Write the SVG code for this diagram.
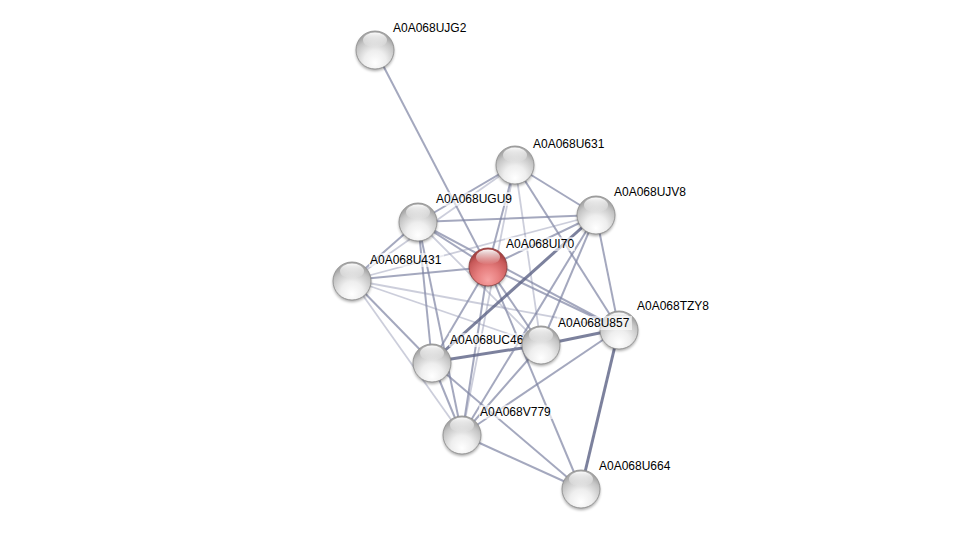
<svg xmlns="http://www.w3.org/2000/svg" width="975" height="534" viewBox="0 0 975 534">
<defs>
<radialGradient id="gw" cx="50%" cy="75%" r="65%" fx="50%" fy="85%">
<stop offset="0" stop-color="#ffffff"/>
<stop offset="0.45" stop-color="#eeeeee"/>
<stop offset="0.85" stop-color="#c4c4c4"/>
<stop offset="1" stop-color="#a8a8a8"/>
</radialGradient>
<radialGradient id="gr" cx="50%" cy="75%" r="65%" fx="50%" fy="85%">
<stop offset="0" stop-color="#f7a3a3"/>
<stop offset="0.45" stop-color="#e77f7f"/>
<stop offset="0.85" stop-color="#c85a5a"/>
<stop offset="1" stop-color="#a84444"/>
</radialGradient>
<linearGradient id="hl" x1="0" y1="0" x2="0" y2="1">
<stop offset="0" stop-color="#ffffff" stop-opacity="0.95"/>
<stop offset="1" stop-color="#ffffff" stop-opacity="0"/>
</linearGradient>
<filter id="sh" x="-50%" y="-50%" width="200%" height="200%">
<feGaussianBlur stdDeviation="1.5"/>
</filter>
<g id="node">
<circle cx="0" cy="2" r="19" fill="#000" opacity="0.35" filter="url(#sh)"/>
<circle cx="0" cy="0" r="19" fill="url(#gw)" stroke="#8a8a8a" stroke-width="0.8"/>
<ellipse cx="0" cy="-10" rx="12" ry="7.5" fill="url(#hl)"/>
</g>
<g id="rnode">
<circle cx="0" cy="2" r="19" fill="#000" opacity="0.35" filter="url(#sh)"/>
<circle cx="0" cy="0" r="19" fill="url(#gr)" stroke="#8a3a3a" stroke-width="0.8"/>
<ellipse cx="0" cy="-10" rx="12" ry="7.5" fill="url(#hl)"/>
</g>
</defs>
<style>
.e{stroke:#7d83a3;stroke-width:2;opacity:0.7;fill:none}
.t{stroke:#5b6185;stroke-width:3;opacity:0.8;fill:none}
.l{stroke:#8d93b0;stroke-width:1.8;opacity:0.45;fill:none}
.lb{font-family:"Liberation Sans",Arial,sans-serif;font-size:12px;fill:#000}
.bg{fill:#fff;opacity:0.6}
</style>
<rect width="975" height="534" fill="#fff"/>
<g id="edges">
<line class="e" x1="375" y1="50" x2="488" y2="267"/>
<line class="e" x1="515" y1="165" x2="488" y2="267"/>
<line class="e" x1="596" y1="215" x2="488" y2="267"/>
<line class="e" x1="418" y1="222" x2="488" y2="267"/>
<line class="e" x1="352" y1="280" x2="488" y2="267"/>
<line class="e" x1="619" y1="329" x2="488" y2="267"/>
<line class="e" x1="541" y1="345" x2="488" y2="267"/>
<line class="e" x1="432" y1="362" x2="488" y2="267"/>
<line class="e" x1="462" y1="435" x2="488" y2="267"/>
<line class="e" x1="581" y1="489" x2="488" y2="267"/>
<line class="e" x1="515" y1="165" x2="418" y2="222"/>
<line class="l" x1="515" y1="165" x2="352" y2="280"/>
<line class="e" x1="515" y1="165" x2="596" y2="215"/>
<line class="e" x1="515" y1="165" x2="619" y2="329"/>
<line class="l" x1="515" y1="165" x2="541" y2="345"/>
<line class="l" x1="515" y1="165" x2="462" y2="435"/>
<line class="e" x1="418" y1="222" x2="596" y2="215"/>
<line class="e" x1="418" y1="222" x2="352" y2="280"/>
<line class="e" x1="418" y1="222" x2="432" y2="362"/>
<line class="e" x1="418" y1="222" x2="462" y2="435"/>
<line class="l" x1="418" y1="222" x2="541" y2="345"/>
<line class="e" x1="418" y1="222" x2="619" y2="329"/>
<line class="l" x1="352" y1="280" x2="596" y2="215"/>
<line class="l" x1="352" y1="280" x2="619" y2="329"/>
<line class="l" x1="352" y1="280" x2="541" y2="345"/>
<line class="e" x1="352" y1="280" x2="432" y2="362"/>
<line class="l" x1="352" y1="280" x2="462" y2="435"/>
<line class="t" x1="432" y1="362" x2="596" y2="215"/>
<line class="t" x1="432" y1="362" x2="541" y2="345"/>
<line class="e" x1="432" y1="362" x2="462" y2="435"/>
<line class="e" x1="432" y1="362" x2="581" y2="489"/>
<line class="e" x1="462" y1="435" x2="596" y2="215"/>
<line class="e" x1="462" y1="435" x2="541" y2="345"/>
<line class="e" x1="462" y1="435" x2="619" y2="329"/>
<line class="e" x1="462" y1="435" x2="581" y2="489"/>
<line class="t" x1="541" y1="345" x2="619" y2="329"/>
<line class="e" x1="541" y1="345" x2="596" y2="215"/>
<line class="e" x1="619" y1="329" x2="596" y2="215"/>
<line class="t" x1="619" y1="329" x2="581" y2="489"/>
</g>
<g id="n-UJG2"><use href="#node" x="375" y="50"/><rect class="bg" x="392" y="21" width="76" height="14"/><text class="lb" x="393" y="32">A0A068UJG2</text></g>
<g id="n-U631"><use href="#node" x="515" y="165"/><rect class="bg" x="532" y="137" width="75" height="14"/><text class="lb" x="533" y="148">A0A068U631</text></g>
<g id="n-UJV8"><use href="#node" x="596" y="215"/><rect class="bg" x="613" y="185" width="76" height="14"/><text class="lb" x="614" y="196">A0A068UJV8</text></g>
<g id="n-UGU9"><use href="#node" x="418" y="222"/><rect class="bg" x="435" y="192" width="79" height="14"/><text class="lb" x="436" y="203">A0A068UGU9</text></g>
<g id="n-U431"><use href="#node" x="352" y="281"/><rect class="bg" x="369" y="253" width="75" height="14"/><text class="lb" x="370" y="264">A0A068U431</text></g>
<g id="n-TZY8"><use href="#node" x="619" y="330"/><rect class="bg" x="636" y="299" width="75" height="14"/><text class="lb" x="637" y="310">A0A068TZY8</text></g>
<g id="n-UC46"><use href="#node" x="432" y="363"/><rect class="bg" x="449" y="333" width="76" height="14"/><text class="lb" x="450" y="344">A0A068UC46</text></g>
<g id="n-U857"><use href="#node" x="541" y="345"/><rect class="bg" x="557" y="316" width="75" height="14"/><text class="lb" x="558" y="327">A0A068U857</text></g>
<g id="n-UI70"><use href="#rnode" x="488" y="267"/><rect class="bg" x="505" y="237" width="70" height="14"/><text class="lb" x="506" y="248">A0A068UI70</text></g>
<g id="n-V779"><use href="#node" x="462" y="435"/><rect class="bg" x="479" y="405" width="74" height="14"/><text class="lb" x="480" y="416">A0A068V779</text></g>
<g id="n-U664"><use href="#node" x="581" y="489"/><rect class="bg" x="598" y="459" width="75" height="14"/><text class="lb" x="599" y="470">A0A068U664</text></g>
</svg>
